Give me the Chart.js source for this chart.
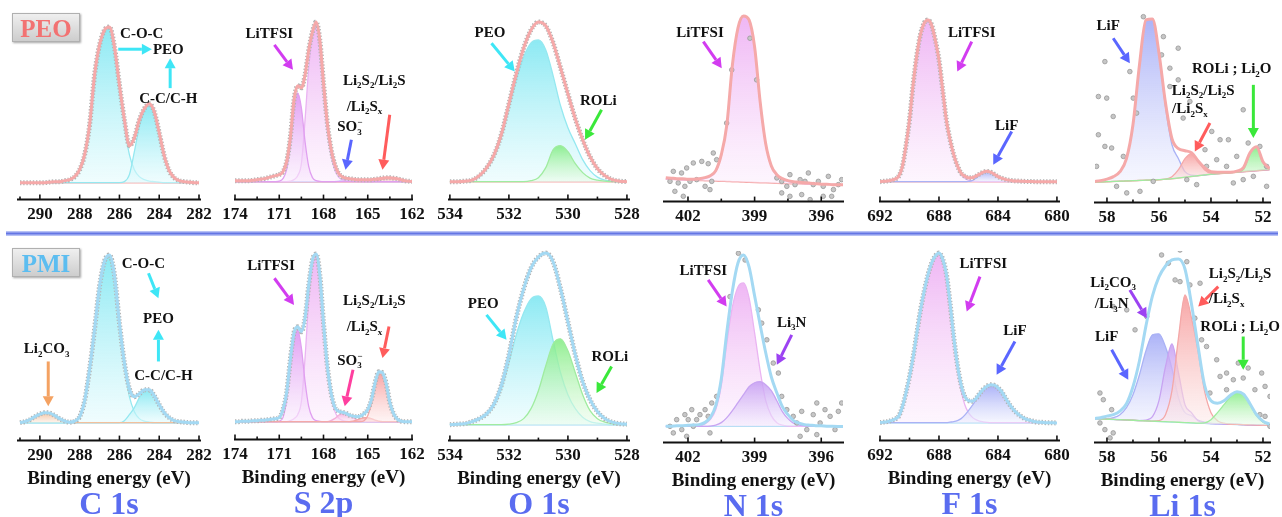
<!DOCTYPE html>
<html><head><meta charset="utf-8">
<script src="https://cdn.jsdelivr.net/npm/chart.js@4.4.1/dist/chart.umd.min.js"></script>
<style>
html,body{margin:0;padding:0;background:#fff;}
body{position:relative;width:1282px;height:517px;overflow:hidden;}
canvas{position:absolute;}
.tag{position:absolute;left:12px;width:68px;height:29px;box-sizing:border-box;border:1px solid #b0b0b0;background:linear-gradient(#efefef,#cdcdcd);box-shadow:1px 1px 2px rgba(0,0,0,.35);font:bold 25px "Liberation Serif",serif;line-height:29px;text-align:center;z-index:5;}
#rule{position:absolute;left:6px;top:231px;width:1272px;height:5px;background:linear-gradient(#cdd5fa,#6476e4 50%,#cdd5fa);z-index:5;}
</style></head><body>
<div class="tag" style="top:13px;color:#f27272">PEO</div>
<div class="tag" style="top:248px;color:#5cbdf0">PMI</div>
<div id="rule"></div>
<script>
// binding energy grids (eV)
const gC = [291,290.75,290.5,290.25,290,289.75,289.5,289.25,289,288.75,288.5,288.25,288,287.75,287.5,287.25,287,286.75,286.5,286.25,286,285.75,285.5,285.25,285,284.75,284.5,284.25,284,283.75,283.5,283.25,283,282.75,282.5,282.25,282];
const gS = [174,173.75,173.5,173.25,173,172.75,172.5,172.25,172,171.75,171.5,171.25,171,170.75,170.5,170.25,170,169.75,169.5,169.25,169,168.75,168.5,168.25,168,167.75,167.5,167.25,167,166.75,166.5,166.25,166,165.75,165.5,165.25,165,164.75,164.5,164.25,164,163.75,163.5,163.25,163,162.75,162.5,162.25,162];
const gO = [534,533.75,533.5,533.25,533,532.75,532.5,532.25,532,531.75,531.5,531.25,531,530.75,530.5,530.25,530,529.75,529.5,529.25,529,528.75,528.5,528.25,528];
const gN = [403,402.75,402.5,402.25,402,401.75,401.5,401.25,401,400.75,400.5,400.25,400,399.75,399.5,399.25,399,398.75,398.5,398.25,398,397.75,397.5,397.25,397,396.75,396.5,396.25,396,395.75,395.5,395.25,395];
const gF = [692,691.75,691.5,691.25,691,690.75,690.5,690.25,690,689.75,689.5,689.25,689,688.75,688.5,688.25,688,687.75,687.5,687.25,687,686.75,686.5,686.25,686,685.75,685.5,685.25,685,684.75,684.5,684.25,684,683.75,683.5,683.25,683,682.75,682.5,682.25,682,681.75,681.5,681.25,681,680.75,680.5,680.25,680];
const gL = [58.5,58.25,58,57.75,57.5,57.25,57,56.75,56.5,56.25,56,55.75,55.5,55.25,55,54.75,54.5,54.25,54,53.75,53.5,53.25,53,52.75,52.5,52.25,52,51.75];

// tick labels
const tC = [290,288,286,284,282];
const tS = [174,171,168,165,162];
const tO = [534,532,530,528];
const tN = [402,399,396];
const tF = [692,688,684,680];
const tL = [58,56,54,52];

// ---- PEO, C 1s
const c1sPeoFit = [17,17,17,17,17,17,17.5,18,18,19,20,23,30,45,75,125,155,170,173,153,115,80,54,62,80,91,96,88,67,44,29,22,19,18,17.5,17,17];
const c1sPeoCOC = [17,17,17,17,17,17,17,17,17.5,18.5,19.5,22.5,29,44,74,124,154,169,172,152,113,74,45,30,23,20,18.5,18,17.5,17,17,17,17,17,17,17,17];
const c1sPeoCC = [17,17,17,17,17,17,17,17,17,17, 17,17,17,17,17,17,17,17,17,17, 17,18,25,48,73,88,95,87,67,44,29,22,19,18,17.5,17,17];
const c1sPeoBg = [17,17,17,17,17,17,17,17,17,17, 17,17,17,17,17,17,17,17,17,17, 17,17,17,17,17,17,17,17,17,17, 17,17,17,17,17,17,17];
// ---- PMI, C 1s
const c1sPmiFit = [18,19,21,24,26.5,28,27.5,25,22,19.5,18.5,19.5,24,40,72,112,155,180,186,166,118,78,52,44,47,51,51,45,36,28,23,20,19,18.5,18,18,18];
const c1sPmiCO3 = [18,18.5,20,23,25.5,27,26.5,24,21,19,18.3, 18,18,18,18,18,18,18,18,18,18, 18,18,18,18,18,18,18,18,18,18, 18,18,18,18,18,18];
const c1sPmiCOC = [18,18,18,18,18,18,18,18,18,18,18, 19,23.5,39.5,71.5,111.5,154.5,179.5,185.5,165,116,74,44,29,22,19.5,18.5,18, 18,18,18,18,18,18,18,18,18];
const c1sPmiCC = [18,18,18,18,18,18,18,18,18,18, 18,18,18,18,18,18,18,18,18,18, 18,20,26,33,43,49.5,50.5,45,36,28,23,20,19,18.5,18,18,18];
const c1sPmiBg = [18,18,18,18,18,18,18,18,18,18, 18,18,18,18,18,18,18,18,18,18, 18,18,18,18,18,18,18,18,18,18, 18,18,18,18,18,18,18];

// ---- PEO, S 2p
const s2pPeoFit = [19,19,19,19,19,19.5,20,20.5,21,22,23,24,25,28,38,62,100,114,112,125,150,168,178,160,117,78,52,36,27,23,21.5,21,20.5,20,20,20,20,20,20.5,21,21.5,22,22,21.5,21,20,19,18.5,18];
const s2pPeoA = [18,18,18,18,18,18,18,18,18,18,18,18, 18.5,21,30,55,90,107,92,58,33,22,19,18.3, 18,18,18,18,18,18,18,18,18,18, 18,18,18,18,18,18,18,18,18,18, 18,18,18,18,18];
const s2pPeoB = [18,18,18,18,18,18,18,18,18,18, 18,18,18,18,18, 18.5,20,24,36,80,132,163,176,152,107,70,45,30,23,20,19,18.5, 18,18,18,18,18,18,18,18,18,18, 18,18,18,18,18,18,18];
const s2pPeoSO3 = [18,18,18,18,18,18,18,18,18,18, 18,18,18,18,18,18,18,18,18,18, 18,18,18,18,18,18,18,18, 18.5,19.5,20.5,21,20.5,19.5,18.5, 18,18,18,18,18,18,18,18,18,18, 18,18,18,18];
const s2pPeoLiS = [18,18,18,18,18,18,18,18,18,18, 18,18,18,18,18,18,18,18,18,18, 18,18,18,18,18,18,18,18,18,18, 18,18,18,18,18,18,18,18, 18.5,19.5,20.5,21.5,22,21.5,20.5,19.5,18.5,18,18];
const s2pPeoBg = [18,18,18,18,18,18,18,18,18,18, 18,18,18,18,18,18,18,18,18,18, 18,18,18,18,18,18,18,18,18,18, 18,18,18,18,18,18,18,18,18,18, 18,18,18,18,18,18,18,18,18];
// ---- PMI, S 2p
const s2pPmiFit = [18,18,18.5,18.5,18.5,19,19,19.5,19.5,20,20.5,21,22,30,47,80,107,113,108,122,155,180,186,165,117,75,48,33,28.5,27.5,26.5,24.5,23.5,23,23.5,26,30,40,57,68,67,56,37,26,20.5,18.5,18,18,18];
const s2pPmiA = [18,18,18,18,18,18,18,18,18,18,18,18, 18.5,22,40,75,100,110,92,58,33,22,19,18.3, 18,18,18,18,18,18,18,18,18,18, 18,18,18,18,18,18,18,18,18,18, 18,18,18,18,18];
const s2pPmiB = [18,18,18,18,18,18,18,18,18,18, 18,18,18,18,18, 19,21,25,38,82,140,176,185,163,114,72,45,29,22,19.5,18.5,18, 18,18,18,18,18,18,18,18,18,18, 18,18,18,18,18,18,18];
const s2pPmiSO3 = [18,18,18,18,18,18,18,18,18,18, 18,18,18,18,18,18,18,18,18,18, 18,18,18,18,18,18, 19,21,24,26,26,24,22,20,19,18.5, 18,18,18,18,18,18,18,18,18,18, 18,18,18];
const s2pPmiLiS2 = [18,18,18,18,18,18,18,18,18,18, 18,18,18,18,18,18,18,18,18,18, 18,18,18,18,18,18,18,18,18,18, 18,18, 18.5,19.5,21,22,22,21,19.5,18.5, 18,18,18,18,18,18,18,18,18];
const s2pPmiLiS = [18,18,18,18,18,18,18,18,18,18, 18,18,18,18,18,18,18,18,18,18, 18,18,18,18,18,18,18,18,18,18, 18,18,18,18,18, 19,24,36,54,66,65,54,36,25,20,18.5,18,18,18];
const s2pPmiBg = [18,18,18,18,18,18,18,18,18,18, 18,18,18,18,18,18,18,18,18,18, 18,18,18,18,18,18,18,18,18,18, 18,18,18,18,18,18,18,18,18,18, 18,18,18,18,18,18,18,18,18];

// ---- PEO, O 1s
const o1sPeoFit = [18,18,18.5,19.5,24,32,45,66,96,126,152,170,178,174,157,132,106,81,60,43,31,24,20,18.5,18];
const o1sPeoPEO = [18,18,18.5,19.5,23,31,43,63,92,120,143,157,160,150,124,94,72,56,40,29,22.5,19.5,18.5,18,18];
const o1sPeoROLi = [18,18,18,18,18,18,18,18,18,18,18,19,22,32,50,54,48,36,27,21.5,19.5,18.5,18,18,18];
const o1sPeoBg = [18,18,18,18,18,18,18,18,18,18, 18,18,18,18,18,18,18,18,18,18, 18,18,18,18,18];
// ---- PMI, O 1s
const o1sPmiFit = [16,16.5,17,19,22,27,37,56,86,123,152,173,184,188,179,152,119,86,59,41,29,22,18.5,17,16.5];
const o1sPmiPEO = [16,16.5,17,18.5,21.5,26,35,52,78,106,128,142,145,134,100,68,46,32,23.5,19,17.5,16.5,16,16,16];
const o1sPmiROLi = [16,16,16,16,16,16,16,16,16.5,18,22,32,50,75,97,102,90,68,46,30,22,18.5,17,16.5,16];
const o1sPmiBg = [16,16,16,16,16,16,16,16,16,16, 16,16,16,16,16,16,16,16,16,16, 16,16,16,16,16];

// ---- PEO, N 1s
const n1sPeoFit = [24,23.5,23,23,22.5,22.5,23,24,26,31,47,77,137,174,186,182,155,100,58,36,27,23,21,20,19.5,19,18.5,18,17.5,17.5,17,17,17];
const n1sPeoLiTFSI = [22.5,22.3,22.1,21.9,21.7,21.6,22,23,25,30,46,76,136,173,185,181,154,99,57,35,26,22,20,19,18.5,18,17.6,17.5,17.4,17.3,17.2,17.1,17];
const n1sPeoBg = [22.5,22.3,22.1,21.9,21.7,21.5,21.2,21,20.8,20.6,20.4,20.2,20,19.8,19.6,19.4,19.2,19,18.8,18.6,18.4,18.2,18,17.9,17.8,17.7,17.6,17.5,17.4,17.3,17.2,17.1,17];
const n1sPeoRawX = [402.81,402.66,402.59,402.44,402.29,402.21,402.14,402.06,401.91,401.76,401.61,401.38,401.23,401.09,401.01,400.93,400.86,400.71,400.26,400.03,399.21,398.91,398.0,397.78,397.78,397.55,397.41,397.41,397.18,396.95,396.88,396.73,396.58,396.5,396.36,396.13,395.91,395.91,395.68,395.53,395.45,395.23,395.08];
const n1sPeoRawY = [20.3,30.3,10.3,18.7,28.7,5.3,15.3,33.7,20.3,38.7,22,40.3,15.3,38,12,20.3,48.7,42,78.7,132,163.7,122,23.7,20.3,8.7,15.3,27,5.3,17,22,7,20.3,28.7,2,17,20.3,15.3,5.3,25.3,5.3,12,17,22];
// ---- PMI, N 1s
const n1sPmiFit = [16.3,16.5,16.8,17,17.3,17.6,18,20,25,37,64,111,152,180,188,176,147,118,90,66,50,36,28,22,19.5,18,17.5,17,16.8,16.5,16.3,16.2,16.2];
const n1sPmiLiTFSI = [16.3,16.3,16.3,16.3,16.4,16.5,16.8,18.5,23,33,57,100,136,156,160,145,110,72,42,27,20,17.5,16.5,16.3,16.3,16.3,16.3,16.3,16.3,16.3,16.3,16.3,16.3];
const n1sPmiLi3N = [16.3,16.3,16.3,16.3,16.3,16.3,16.3,16.3,16.5,17.5,20,25,32,40,48,56,60,61,58,52,42,31,24,19.5,17.5,16.8,16.3,16.3,16.3,16.3,16.3,16.3,16.3];
const n1sPmiBg = [16.3,16.3,16.3,16.3,16.3,16.3,16.3,16.3,16.3,16.3, 16.3,16.3,16.3,16.3,16.3,16.3,16.3,16.3,16.3,16.3, 16.3,16.3,16.3,16.3,16.3,16.3,16.3,16.3,16.3,16.3, 16.3,16.3,16.3];
const n1sPmiRawX = [402.81,402.66,402.51,402.28,402.14,402.06,401.99,401.83,401.76,401.61,401.46,401.23,401.09,400.93,400.71,401.01,399.73,399.43,400.11,398.83,398.68,398.45,398.16,397.93,397.78,397.55,397.26,397.1,396.88,396.65,396.36,396.2,396.05,395.83,395.6,395.38,395.23,395.08,396.95,396.2];
const n1sPmiRawY = [16.3,9.7,23,13,28,6.3,23,33,16.3,23,28,33,26.3,39.7,46.3,9.7,189.7,183,146.3,133,119.7,103,79.7,69.7,46.3,33,26.3,19.7,31.3,13,28,39.7,19.7,33,26.3,13,31.3,39.7,6.3,8];

// ---- PEO, F 1s
const f1sPeoFit = [20,20.3,20.7,21.3,22.5,25,34,55,82,118,147,168,179,182,177,162,142,112,82,62,47,36,28.5,25.5,24,24,25.5,27.5,29.5,30.3,29.5,27.5,25,23.5,22.3,21.5,21,20.7,20.5,20.3,20.2,20.1,20,20,20,20,20,20,20];
const f1sPeoLiTFSI = [20,20.3,20.7,21.3,22.5,25,34,55,82,118,147,168,179,182,177,162,142,112,82,62,47,36,27,23.5,21.5,20.7,20.3,20.1, 20,20,20,20,20,20,20,20,20,20, 20,20,20,20,20,20,20,20,20,20, 20];
const f1sPeoLiF = [20,20,20,20,20,20,20,20,20,20, 20,20,20,20,20,20,20,20,20,20, 20,20,20,20, 20.3,21,23.5,26.5,29,30,29,27,24.5,23,21.8,21,20.5,20.2, 20,20,20,20,20,20,20,20,20,20, 20];
const f1sPeoBg = [20,20,20,20,20,20,20,20,20,20, 20,20,20,20,20,20,20,20,20,20, 20,20,20,20,20,20,20,20,20,20, 20,20,20,20,20,20,20,20,20,20, 20,20,20,20,20,20,20,20,20];
// ---- PMI, F 1s
const f1sPmiFit = [18,18.5,19,20,21.5,24,33,47,64,84,108,131,150,166,178,185,188,182,167,138,104,76,56,44,40,39.5,42,47,51.5,54.5,56,55.5,53,49,43,37,32,28,25,22.5,21,20,19,18.5,18.3,18,18,17.8,17.7];
const f1sPmiLiTFSI = [18,18.5,19,20,21.5,24,33,47,64,84,108,131,150,166,178,185,188,182,167,138,103,72,50,36,28,23.5,21,19.5,18.8,18.3, 18,18,18,18,18,18,18,18,18,18, 18,18,18,18,18,18,18,18,18];
const f1sPmiLiF = [18,18,18,18,18,18,18,18,18,18, 18,18,18,18,18,18,18,18,18, 18.5,19,20,22,25.5,30,35,40.5,46,51,54,55,54.5,52,48,42.5,36.5,31.5,27.5,24.5,22,20.5,19.5,18.8,18.3, 18,18,18,18,18];
const f1sPmiBg = [18,18,18,18,18,18,18,18,18,18, 18,18,18,18,18,18,18,18,18,18, 18,18,18,18,18,18,18,18,18,18, 18,18,18,18,18,18,18,18,18,18, 18,18,18,18,18,18,18,18,18];

// ---- PEO, Li 1s
const li1sPeoFit = [21,22,23.5,26,31,44,78,138,183,184,150,100,64,54,52,50,42,35,31,30.5,30.5,30.5,31.5,35,50,56,41,34];
const li1sPeoLiF = [21,22,23.5,26,31,44,78,138,183,184,150,96,58,44,31,27.5,27,27.7,28.5,29,29.5,30,30.5,31,31.5,32,32.5,33];
const li1sPeoLiS = [20.5,20.7,21,21.2,21.5,21.7,22,22.2,22.5,22.7,23,23.5,26,33,44,49,42,33,29.5,29,29.5,30,30.5,31,31.5,32,32.5,33];
const li1sPeoROLi = [20.5,20.7,21,21.2,21.5,21.7,22,22.2,22.5,22.7,23,23.5,24,24.7,25.5,26.2,27,27.7,28.5,29,29.5,30,30.5,33,48,55,40,33.5];
const li1sPeoBg = [20.5,20.7,21,21.2,21.5,21.7,22,22.2,22.5,22.7,23,23.5,24,24.7,25.5,26.2,27,27.7,28.5,29,29.5,30,30.5,31,31.5,32,32.5,33];
const li1sPeoRawX = [58.08,57.12,56.6,55.83,55.26,55.9,55.58,58.33,58.01,56.99,57.76,56.86,55.58,54.81,55.07,58.33,58.08,57.82,57.37,53.97,54.23,53.65,53.78,53.33,53.01,52.76,52.57,52.12,51.86,52.37,52.76,51.86,58.4,57.63,57.24,56.73,56.22,54.93,54.17,53.4,53.14,54.55,55.26];
const li1sPeoRawY = [141.3,131.3,186.3,166.3,154.7,148,134.7,106.3,104.7,104.7,86.3,89.7,116.3,101.3,84.7,68,56.3,54.7,46.3,71.3,53,63,43,63,46.3,93,59.7,56.3,36.3,26.3,23,16.3,36.3,16.3,9.7,11.3,21.3,23,36.3,36.3,19.7,18,123];
// ---- PMI, Li 1s
const li1sPmiFit = [24,25,26.5,28,31.5,39,56,82,117,147,166,177,183,184,174,139,97,58,42,39.5,42,47.5,51,48.5,39,28,21.5,18.5];
const li1sPmiLiF = [24,24,24,25,28,35,48,68,92,108,109,96,74,45,30,27,22.5,20.5,19.5,19,18.6,18.4,18.2,18,17.8,17.6,17.4,17.2];
const li1sPmiLi3N = [24,23.8,23.5,23.2,23,22.7,22.4,22.1,22.5,26,42,76,99,70,38,30,22,20,19,18.8,18.6,18.4,18.2,18,17.8,17.6,17.4,17.2];
const li1sPmiLiS = [24,23.8,23.5,23.2,23,22.7,22.4,22.1,21.8,21.5,22,28,52,105,148,125,92,52,30,22,19.5,18.4,18.2,18,17.8,17.6,17.4,17.2];
const li1sPmiROLi = [24,23.8,23.5,23.2,23,22.7,22.4,22.1,21.8,21.5,21.2,21,20.7,20.4,20.1,19.8,19.5,19.8,23,30,38,46,51,48,38,27,20.5,18];
const li1sPmiBg = [24,23.8,23.5,23.2,23,22.7,22.4,22.1,21.8,21.5,21.2,21,20.7,20.4,20.1,19.8,19.5,19.3,19,18.8,18.6,18.4,18.2,18,17.8,17.6,17.4,17.2];
const li1sPmiRawX = [55.9,55.19,55.64,54.93,55.38,55.19,54.81,54.42,56.47,57.24,54.62,54.36,54.17,53.78,53.65,53.4,53.14,52.76,52.57,52.31,52.05,51.92,51.73,58.27,58.14,57.82,58.27,58.08,57.76,57.88,52.12,51.92,51.73,54.04,53.4,52.95,56.92,57.76];
const li1sPmiRawY = [188,193,179.7,181.3,163,161.3,158,159.7,126.3,133,124.7,103,96.3,83,66.3,69.7,63,64.7,74.7,53,69.7,56.3,46.3,49.7,43,33,19.7,13,9.7,4.7,28,26.3,16.3,49.7,53,79.7,113,136.3];

const FONT = '"Liberation Serif", "Times New Roman", serif';
const PAL = {
  cyan:   ['rgba(112,228,240,0.8)',  'rgba(228,251,253,0.55)', '#95e8f0'],
  lilac:  ['rgba(220,140,240,0.85)', 'rgba(249,234,253,0.55)', '#e0a0f0'],
  pink:   ['rgba(236,170,242,0.85)', 'rgba(252,238,253,0.55)', '#eab4f2'],
  green:  ['rgba(128,236,128,0.85)', 'rgba(236,252,236,0.55)', '#a0eca0'],
  blue:   ['rgba(158,166,246,0.85)', 'rgba(238,240,254,0.55)', '#aab2f5'],
  red:    ['rgba(246,150,150,0.85)', 'rgba(253,236,236,0.55)', '#f4a8a8'],
  orange: ['rgba(246,196,160,0.9)',  'rgba(252,238,228,0.6)',  '#f2c09c'],
  purple: ['rgba(196,156,242,0.85)', 'rgba(244,236,253,0.55)', '#c8a4f2'],
  rose:   ['rgba(246,168,222,0.85)', 'rgba(253,236,246,0.55)', '#f4b0da']
};
const ARR = {cyan:'#3ee6f6', magenta:'#d23cf0', blue:'#5a66ff', red:'#ff5c5c', green:'#3ae83a', orange:'#f4a262', purple:'#9c42f2', pink:'#ff3f9f'};

const panels = [
  {row:0, left:18, right:200, axisY:200, min:281.95, max:291.1, ticks:tC, grid:gC, fit:c1sPeoFit, bg:c1sPeoBg,
   comps:[[c1sPeoCC,'cyan'],[c1sPeoCOC,'cyan']],
   notes:[['t','C-O-C',284.88,166.7],['a','cyan',286.06,150.7,284.37,150.7],['t','PEO',283.54,150.7],
          ['a','cyan',283.45,111.7,283.45,141.7],['t','C-C/C-H',283.54,101.7]]},
  {row:0, left:235, right:412, axisY:200, min:162, max:174, ticks:tS, grid:gS, fit:s2pPeoFit, bg:s2pPeoBg,
   comps:[[s2pPeoA,'lilac'],[s2pPeoB,'pink'],[s2pPeoSO3,'blue'],[s2pPeoLiS,'red']],
   notes:[['t','LiTFSI',171.67,166.7],['a','magenta',171.33,155,170.07,130],['t','Li_2S_2/Li_2S',164.56,120],
          ['t','/Li_2S_x',165.22,94],['t','SO_3^−',166.22,73.3],['a','blue',166.11,60,166.51,30],['a','red',163.51,85,164.0,30]]},
  {row:0, left:449, right:629, axisY:200, min:527.93, max:534.03, ticks:tO, grid:gO, fit:o1sPeoFit, bg:o1sPeoBg,
   comps:[[o1sPeoROLi,'green'],[o1sPeoPEO,'cyan']],
   notes:[['t','PEO',532.64,168.3],['a','cyan',532.59,156.7,531.8,128.3],['t','ROLi',528.97,100],['a','green',528.86,90,529.42,60]]},
  {row:0, left:664, right:843, axisY:202, min:395.02, max:403.08, ticks:tN, grid:gN, fit:n1sPeoFit, bg:n1sPeoBg,
   rawX:n1sPeoRawX, rawY:n1sPeoRawY, comps:[[n1sPeoLiTFSI,'pink']],
   notes:[['t','LiTFSI',401.46,170.3],['a','magenta',401.31,160.3,400.48,133.7]]},
  {row:0, left:880, right:1059, axisY:202, min:679.86, max:692, ticks:tF, grid:gF, fit:f1sPeoFit, bg:f1sPeoBg,
   comps:[[f1sPeoLiF,'blue'],[f1sPeoLiTFSI,'pink']],
   notes:[['t','LiTFSI',685.78,170.3],['a','magenta',685.78,160.3,686.76,130.3],['t','LiF',683.41,77],['a','blue',683.07,70.3,684.32,37]]},
  {row:0, left:1095, right:1270, axisY:203, min:51.73, max:58.46, ticks:tL, grid:gL, fit:li1sPeoFit, bg:li1sPeoBg,
   rawX:li1sPeoRawX, rawY:li1sPeoRawY, comps:[[li1sPeoROLi,'green'],[li1sPeoLiS,'red'],[li1sPeoLiF,'blue']],
   notes:[['t','LiF',57.95,178],['a','blue',57.76,164.7,57.12,139.7],['t','ROLi ; Li_2O',53.2,134.7],['a','green',52.37,118,52.37,64.7],
          ['t','Li_2S_2/Li_2S',54.3,113],['t','/Li_2S_x',54.81,94.7],['a','red',54.04,79.7,54.62,51.3]]},

  {row:1, name:'C 1s', left:18, right:200, axisY:441, min:281.95, max:291.1, ticks:tC, grid:gC, fit:c1sPmiFit, bg:c1sPmiBg,
   comps:[[c1sPmiCO3,'orange'],[c1sPmiCC,'cyan'],[c1sPmiCOC,'cyan']],
   notes:[['t','C-O-C',284.8,177.7],['a','cyan',284.54,167.7,284.04,142.7],['t','PEO',284.04,122.7],['a','cyan',284.04,79.3,284.04,111],
          ['t','C-C/C-H',283.79,66],['t','Li_2CO_3',289.66,92.7],['a','orange',289.58,79.3,289.58,34.3]]},
  {row:1, name:'S 2p', left:235, right:412, axisY:440, min:162, max:174, ticks:tS, grid:gS, fit:s2pPmiFit, bg:s2pPmiBg,
   comps:[[s2pPmiLiS,'red'],[s2pPmiLiS2,'red'],[s2pPmiSO3,'rose'],[s2pPmiA,'lilac'],[s2pPmiB,'pink']],
   notes:[['t','LiTFSI',171.56,175],['a','magenta',171.33,161.7,170.0,135],['t','Li_2S_2/Li_2S',164.56,140],['t','/Li_2S_x',165.22,113.3],
          ['t','SO_3^−',166.22,80],['a','pink',166.0,70,166.56,33.3],['a','red',163.56,113.3,164.0,81.7]]},
  {row:1, name:'O 1s', left:449, right:629, axisY:441, min:527.93, max:534.03, ticks:tO, grid:gO, fit:o1sPmiFit, bg:o1sPmiBg,
   comps:[[o1sPmiROLi,'green'],[o1sPmiPEO,'cyan']],
   notes:[['t','PEO',532.87,138.3],['a','cyan',532.76,126,532.08,101],['t','ROLi',528.58,84.3],['a','green',528.52,74.3,529.03,47.7]]},
  {row:1, name:'N 1s', left:664, right:843, axisY:443, min:395.02, max:403.08, ticks:tN, grid:gN, fit:n1sPmiFit, bg:n1sPmiBg,
   rawX:n1sPmiRawX, rawY:n1sPmiRawY, comps:[[n1sPmiLi3N,'purple'],[n1sPmiLiTFSI,'pink']],
   notes:[['t','LiTFSI',401.31,173],['a','magenta',401.09,163,400.26,136.3],['t','Li_3N',397.33,121.3],['a','purple',397.33,108,398.0,78]]},
  {row:1, name:'F 1s', left:880, right:1059, axisY:441, min:679.86, max:692, ticks:tF, grid:gF, fit:f1sPmiFit, bg:f1sPmiBg,
   comps:[[f1sPmiLiF,'blue'],[f1sPmiLiTFSI,'pink']],
   notes:[['t','LiTFSI',684.99,177.7],['a','magenta',685.22,164.3,686.12,129.3],['t','LiF',682.85,111],['a','blue',682.85,99.3,684.09,66]]},
  {row:1, name:'Li 1s', left:1095, right:1270, axisY:443, min:51.73, max:58.46, ticks:tL, grid:gL, fit:li1sPmiFit, bg:li1sPmiBg,
   rawX:li1sPmiRawX, rawY:li1sPmiRawY, comps:[[li1sPmiROLi,'green'],[li1sPmiLiS,'red'],[li1sPmiLi3N,'purple'],[li1sPmiLiF,'blue']],
   notes:[['t','Li_2CO_3',57.76,161.3],['t','/Li_3N',57.82,139.7],['a','purple',57.12,153,56.47,124.7],['t','LiF',58.01,106.3],
          ['a','blue',57.82,93,57.18,63],['t','Li_2S_2/Li_2S',52.88,169.7],['t','/Li_2S_x',53.4,144.7],['a','red',53.72,156.3,54.49,136.3],
          ['t','ROLi ; Li_2O',52.88,116.3],['a','green',52.76,106.3,52.76,73]]}
];

function shade(pal) {
  return function (c) {
    const ch = c.chart;
    if (!ch.chartArea) return pal[0];
    const vals = ch.data.datasets[c.datasetIndex].data;
    const ys = ch.scales.y;
    const top = ys.getPixelForValue(Math.max(...vals));
    const bot = ys.getPixelForValue(Math.min(...vals));
    const g = ch.ctx.createLinearGradient(0, top, 0, bot + 0.5);
    g.addColorStop(0, pal[0]);
    g.addColorStop(1, pal[1]);
    return g;
  };
}

function rich(ctx, str, cx, cy, size) {
  const parts = [];
  for (let i = 0; i < str.length; i++) {
    const ch = str[i];
    if (ch === '_' || ch === '^') { parts.push({s: str[i + 1], k: ch}); i++; }
    else parts.push({s: ch, k: ''});
  }
  const big = 'bold ' + size + 'px ' + FONT;
  const small = 'bold ' + Math.round(size * 0.62) + 'px ' + FONT;
  let x = 0, subStart = 0;
  const items = [];
  parts.forEach((p, i) => {
    ctx.font = p.k ? small : big;
    const w = ctx.measureText(p.s).width;
    let px = x;
    if (p.k === '^' && i > 0 && parts[i - 1].k === '_') { px = subStart; x = Math.max(x, px + w); }
    else { if (p.k === '_') subStart = x; x += w; }
    items.push({p: p, px: px});
  });
  const x0 = cx - x / 2, base = cy + size * 0.33;
  ctx.textAlign = 'left';
  ctx.textBaseline = 'alphabetic';
  ctx.fillStyle = '#111';
  items.forEach(it => {
    ctx.font = it.p.k ? small : big;
    const dy = it.p.k === '_' ? size * 0.24 : it.p.k === '^' ? -size * 0.4 : 0;
    ctx.fillText(it.p.s, x0 + it.px, base + dy);
  });
}

function arrow(ctx, x1, y1, x2, y2, color) {
  const ang = Math.atan2(y2 - y1, x2 - x1), L = 10, W = 5.5;
  const bx = x2 - L * Math.cos(ang), by = y2 - L * Math.sin(ang);
  ctx.strokeStyle = color; ctx.fillStyle = color; ctx.lineWidth = 3;
  ctx.beginPath(); ctx.moveTo(x1, y1); ctx.lineTo(bx, by); ctx.stroke();
  ctx.beginPath(); ctx.moveTo(x2, y2);
  ctx.lineTo(bx + W * Math.sin(ang), by - W * Math.cos(ang));
  ctx.lineTo(bx - W * Math.sin(ang), by + W * Math.cos(ang));
  ctx.closePath(); ctx.fill();
}

// axis line with inward major / minor ticks
const axisTicks = {
  id: 'axisTicks',
  afterDraw(chart) {
    const ctx = chart.ctx, s = chart.scales.x, a = chart.chartArea;
    const vals = s.ticks.map(t => t.value);
    const step = Math.abs(vals[1] - vals[0]);
    ctx.save();
    ctx.strokeStyle = '#111';
    ctx.lineWidth = 2;
    ctx.beginPath(); ctx.moveTo(a.left - 1, a.bottom); ctx.lineTo(a.right + 1, a.bottom); ctx.stroke();
    ctx.lineWidth = 1.6;
    vals.forEach(v => {
      const x = s.getPixelForValue(v);
      ctx.beginPath(); ctx.moveTo(x, a.bottom); ctx.lineTo(x, a.bottom - 5); ctx.stroke();
    });
    for (let v = Math.min(...vals) - step / 2; v <= s.max; v += step) {
      if (v < s.min) continue;
      const x = s.getPixelForValue(v);
      ctx.beginPath(); ctx.moveTo(x, a.bottom); ctx.lineTo(x, a.bottom - 3); ctx.stroke();
    }
    ctx.restore();
  }
};

function notesPlugin(notes) {
  return {
    id: 'notes',
    afterDraw(chart) {
      const ctx = chart.ctx, xs = chart.scales.x, ys = chart.scales.y;
      ctx.save();
      notes.forEach(n => {
        if (n[0] === 'a') arrow(ctx, xs.getPixelForValue(n[2]), ys.getPixelForValue(n[3]), xs.getPixelForValue(n[4]), ys.getPixelForValue(n[5]), ARR[n[1]]);
      });
      notes.forEach(n => {
        if (n[0] === 't') rich(ctx, n[1], xs.getPixelForValue(n[2]), ys.getPixelForValue(n[3]), 15);
      });
      ctx.restore();
    }
  };
}

function config(p) {
  const line = p.row ? '#a4d9f3' : '#f5a9a9';
  const ds = [{data: p.fit, borderColor: line, borderWidth: 3}];
  if (p.rawX) {
    ds.push({data: p.rawX.map((x, i) => ({x: x, y: p.rawY[i]})), showLine: false, pointRadius: 2.3,
             pointBackgroundColor: '#c6c6c6', pointBorderColor: '#989898', pointBorderWidth: 0.8});
  } else {
    ds.push({data: p.fit.slice(), borderColor: '#b4b4b4', borderWidth: 5, borderDash: [1.4, 1.8]});
  }
  const bgIdx = ds.length + p.comps.length;
  p.comps.forEach(c => ds.push({data: c[0], borderColor: PAL[c[1]][2], borderWidth: 1.3, fill: bgIdx, backgroundColor: shade(PAL[c[1]])}));
  ds.push({data: p.bg, borderColor: line, borderWidth: 1.5});

  return {
    type: 'line',
    data: {labels: p.grid, datasets: ds},
    options: {
      responsive: false, animation: false, devicePixelRatio: 1,
      layout: {padding: {left: 20, right: 20, top: 10, bottom: 0}},
      elements: {point: {radius: 0}, line: {tension: 0.4, cubicInterpolationMode: 'monotone'}},
      plugins: {
        legend: {display: false}, tooltip: {enabled: false},
        title: p.row ? {display: true, text: p.name, position: 'bottom', color: '#5a6cf0',
                        font: {family: FONT, size: 32, weight: 'bold', lineHeight: 1}, padding: {top: 1, bottom: 4}}
                     : {display: false}
      },
      scales: {
        x: {
          type: 'linear', reverse: true, min: p.min, max: p.max,
          afterBuildTicks: s => { s.ticks = p.ticks.map(v => ({value: v})); },
          grid: {display: false, drawTicks: false},
          border: {display: false},
          ticks: {padding: 5, color: '#111', autoSkip: false, maxRotation: 0,
                  font: {family: FONT, size: 17, weight: 'bold'}, callback: v => String(v)},
          title: {display: !!p.row, text: 'Binding energy (eV)', color: '#111',
                  font: {family: FONT, size: 19, weight: 'bold', lineHeight: 1}, padding: {top: -1, bottom: 0}}
        },
        y: {display: false, min: 0, max: 192}
      }
    },
    plugins: [axisTicks, notesPlugin(p.notes)]
  };
}

function draw(p, w, h) {
  const cv = document.createElement('canvas');
  cv.width = w; cv.height = h;
  cv.style.width = w + 'px'; cv.style.height = h + 'px';
  document.body.appendChild(cv);
  return new Chart(cv, config(p));
}

function mount(p) {
  const w0 = p.right - p.left + 40, h0 = p.row ? 300 : 232;
  let chart = draw(p, w0, h0);
  const a = chart.chartArea;
  const dw = Math.round((p.right - p.left) - (a.right - a.left));
  const dh = Math.round(192 - (a.bottom - a.top));
  if (dw || dh) {
    const old = chart.canvas;
    chart.destroy();
    old.remove();
    chart = draw(p, w0 + dw, h0 + dh);
  }
  const b = chart.chartArea;
  chart.canvas.style.left = (p.left - b.left) + 'px';
  chart.canvas.style.top = (p.axisY - b.bottom) + 'px';
}

panels.forEach(mount);
</script>
</body></html>
